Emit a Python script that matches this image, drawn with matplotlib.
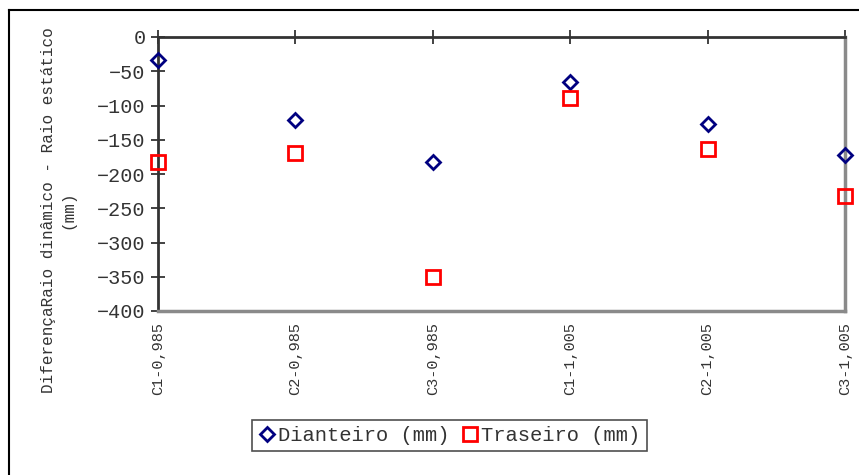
import matplotlib
matplotlib.use("Agg")
import matplotlib.pyplot as plt
from matplotlib.lines import Line2D

# Data: difference between dynamic and static radius (mm)
categories = ["C1-0,985", "C2-0,985", "C3-0,985", "C1-1,005", "C2-1,005", "C3-1,005"]
dianteiro = [-34, -121, -183, -66, -127, -172]
traseiro = [-183, -170, -350, -89, -164, -232]
y_ticks = [0, -50, -100, -150, -200, -250, -300, -350, -400]

FONT = "Liberation Mono"
TXT = "#333333"

fig = plt.figure(figsize=(8.59, 4.75), dpi=100)
W, H = 859, 475
left, right, top, bottom = 158, 845, 37, 311
ax = fig.add_axes([left / W, 1 - bottom / H, (right - left) / W, (bottom - top) / H])

x = list(range(len(categories)))
ax.plot(x, dianteiro, linestyle="none", marker="D", markersize=7.6,
        markerfacecolor="none", markeredgecolor="#000080", markeredgewidth=2,
        clip_on=False, zorder=5, label="Dianteiro (mm)")
ax.plot(x, traseiro, linestyle="none", marker="s", markersize=10,
        markerfacecolor="none", markeredgecolor="#ff0000", markeredgewidth=2,
        clip_on=False, zorder=5, label="Traseiro (mm)")

ax.set_xlim(0, len(categories) - 1)
ax.set_ylim(-400, 0)
ax.set_yticks(y_ticks)
ax.set_yticklabels([f"{v}".replace("-", "\u2212") for v in y_ticks],
                   fontfamily=FONT, fontsize=14.5, color=TXT)
ax.set_xticks(x)
ax.set_xticklabels(categories, rotation=90, fontfamily=FONT, fontsize=11,
                   color=TXT, va="top", ha="center")

ax.tick_params(axis="y", direction="inout", length=10, width=1.2,
               color="#222222", pad=4)
ax.tick_params(axis="x", bottom=False, top=True, labelbottom=True, labeltop=False,
               direction="inout", length=10, width=1.2, color="#222222", pad=3)

for side in ("left", "top"):
    ax.spines[side].set_color("#333333")
    ax.spines[side].set_linewidth(2)
for side in ("right", "bottom"):
    ax.spines[side].set_color("#8a8a8a")
    ax.spines[side].set_linewidth(2.5)

fig.text(58 / W, 1 - 210 / H,
         "DiferençaRaio dinâmico - Raio estático\n(mm)",
         rotation=90, ha="center", va="center", multialignment="center",
         fontfamily=FONT, fontsize=11.5, color=TXT, linespacing=1.35)

leg = fig.legend(loc="center", bbox_to_anchor=(449.5 / W, 1 - 435.5 / H),
                 ncol=2, frameon=True, fancybox=False, shadow=False,
                 prop={"family": FONT, "size": 14.8}, handlelength=0.8,
                 handletextpad=0.15, columnspacing=0.6, borderpad=0.3,
                 borderaxespad=0)
leg.get_frame().set_edgecolor("#222222")
leg.get_frame().set_linewidth(1.2)
for t in leg.get_texts():
    t.set_color(TXT)

# Outer chart frame (left and top edges visible)
fig.add_artist(Line2D([9 / W, 9 / W], [0, 1 - 10 / H], transform=fig.transFigure,
                      color="black", linewidth=1.5))
fig.add_artist(Line2D([9 / W, 1], [1 - 10 / H, 1 - 10 / H], transform=fig.transFigure,
                      color="black", linewidth=1.5))

fig.savefig("out.png", dpi=100, facecolor="white")
